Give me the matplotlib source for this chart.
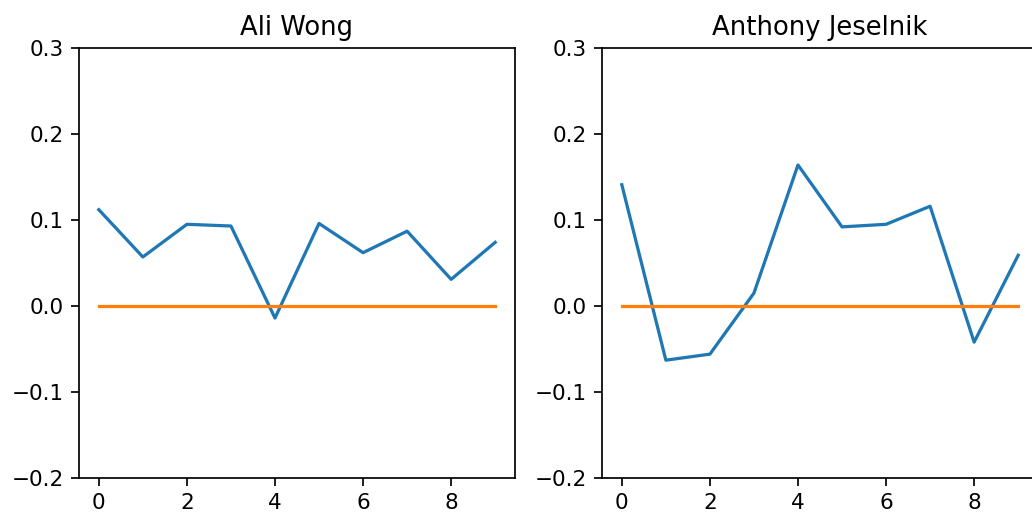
import numpy as np
import matplotlib
matplotlib.use('Agg')
import matplotlib.pyplot as plt

# values
x = list(range(10))
names = ['Ali Wong', 'Anthony Jeselnik']
ali_wong = [0.112, 0.057, 0.095, 0.093, -0.014, 0.096, 0.062, 0.087, 0.031, 0.074]
jeselnik = [0.141, -0.063, -0.056, 0.015, 0.164, 0.092, 0.095, 0.116, -0.042, 0.059]
baseline = [0.0] * 10

DPI = 155
fig = plt.figure(figsize=(1032 / DPI, 522 / DPI), dpi=DPI)

# axes boxes in pixels (left, bottom, width, height); the right panel runs off the edge
W, H = 1032, 522
boxes = [(79, 44, 436, 430), (602, 44, 436, 430)]

for (l, b, w, h), name, vals in zip(boxes, names, [ali_wong, jeselnik]):
    ax = fig.add_axes([l / W, b / H, w / W, h / H])
    ax.plot(x, vals)
    ax.plot(x, baseline)
    ax.set_ylim(-0.2, 0.3)
    ax.set_title(name)

fig.savefig('out.png', dpi=DPI)
